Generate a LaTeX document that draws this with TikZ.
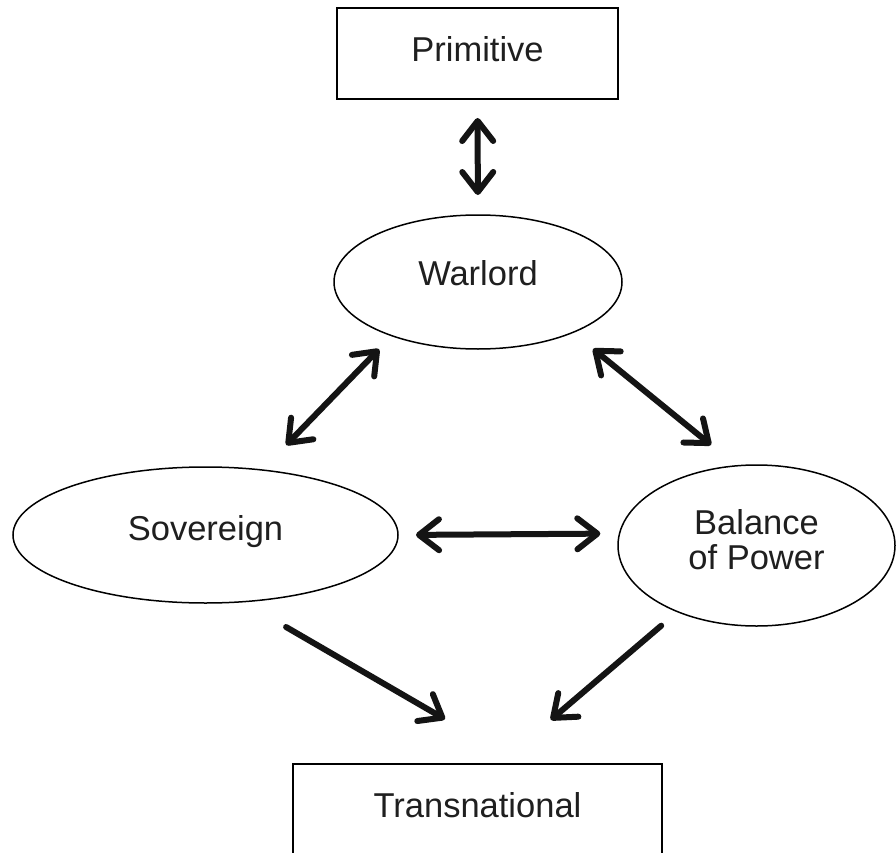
\documentclass[tikz,border=0pt]{standalone}
\usepackage{fontspec}
\setmainfont{Liberation Sans}
\usetikzlibrary{shapes.geometric,arrows.meta}
\newcommand\diagfont{\fontsize{34.5}{35}\selectfont}
\tikzset{
  boxnode/.style={draw, rectangle, line width=1.5pt, inner sep=0pt, outer sep=0pt, font=\diagfont, text=black!88},
  ellnode/.style={draw, ellipse, line width=1.5pt, inner sep=0pt, outer sep=0pt, font=\diagfont, text=black!88, align=center},
  barb/.tip={Straight Barb[length=20pt,width=31pt,round]},
  dbl/.style={line width=6pt, line cap=round, barb-barb, black!92},
  one/.style={line width=6pt, line cap=round, -barb, black!92}
}
\begin{document}
\begin{tikzpicture}[x=1pt,y=-1pt]
  \clip (0,0) rectangle (896,853);
  \fill[white] (0,0) rectangle (896,853);
  % nodes
  \node[boxnode, minimum width=281pt, minimum height=91pt, text height=25pt, text depth=9.6pt] (prim) at (477.5,53.5) {Primitive};
  \node[ellnode, minimum width=288pt, minimum height=134pt, text height=25pt, text depth=18.2pt] (war) at (478,282) {Warlord};
  \node[ellnode, minimum width=385pt, minimum height=136pt, text height=25pt, text depth=14.2pt] (sov) at (205.5,535) {Sovereign};
  \node[ellnode, minimum width=277pt, minimum height=161pt, text height=50pt, text depth=1.2pt] (bal) at (756.5,545.5) {Balance\\of Power};
  \node[boxnode, anchor=north, minimum width=369pt, minimum height=140pt, text height=25pt, text depth=58.2pt] (trans) at (477.5,764) {Transnational};
  % connectors
  \draw[dbl, shorten <=19pt, shorten >=20pt] (prim) -- (war);
  \draw[dbl, shorten <=18.6pt, shorten >=34.8pt] (war.212) -- (sov.49.8);
  \draw[dbl, shorten <=26.1pt, shorten >=33pt] (war.332) -- (bal.104.8);
  \draw[dbl, shorten <=18pt, shorten >=19.2pt] (sov.east) -- (bal.175.6);
  \draw[one, shorten <=50.4pt, shorten >=89.4pt] (sov.299.6) -- ([xshift=44.8pt]trans.north);
  \draw[one, shorten <=21.6pt, shorten >=68.1pt] (bal.220.5) -- ([xshift=21.5pt]trans.north);
\end{tikzpicture}
\end{document}
